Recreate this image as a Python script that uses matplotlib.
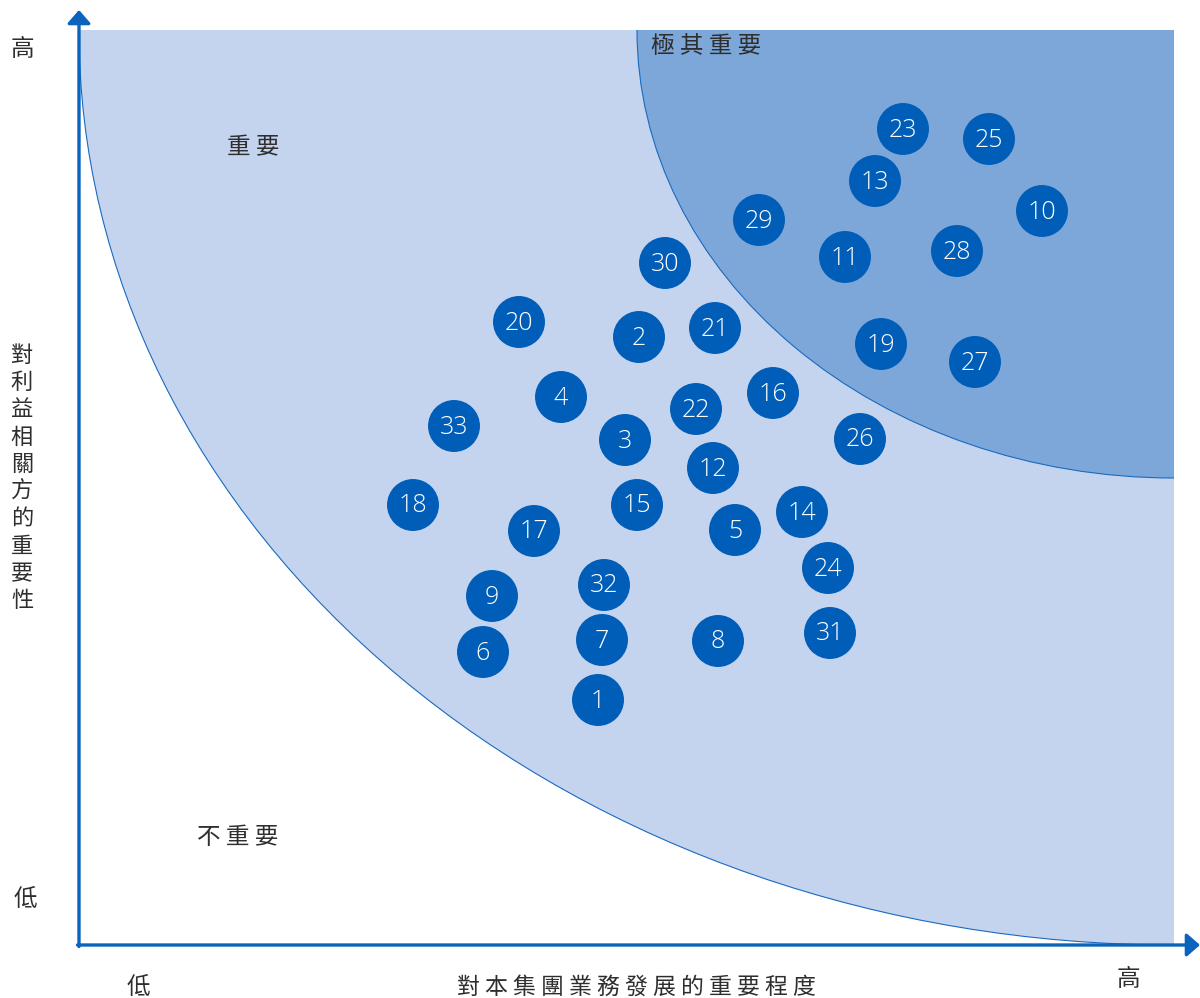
import matplotlib.pyplot as plt
from matplotlib.patches import Ellipse, Rectangle

plt.rcParams['font.family'] = ['Noto Sans CJK TC', 'DejaVu Sans']

# bubble ids and positions (x = business importance, y = stakeholder importance)
ids = [1, 2, 3, 4, 5, 6, 7, 8, 9, 10, 11, 12, 13, 14, 15, 16, 17,
       18, 19, 20, 21, 22, 23, 24, 25, 26, 27, 28, 29, 30, 31, 32, 33]
x_vals = [519, 560, 546, 482, 656, 404, 523, 639, 413, 963, 766, 634, 796, 723, 558, 694, 455,
          334, 802, 440, 636, 617, 824, 749, 910, 781, 896, 878, 680, 586, 751, 525, 375]
y_vals = [245, 608, 505, 548, 415, 293, 305, 304, 349, 734, 688, 477, 764, 433, 440, 552, 414,
          440, 601, 623, 617, 536, 816, 377, 806, 506, 583, 694, 725, 682, 312, 360, 519]

x_max = 1095
y_max = 915

x_title = '對本集團業務發展的重要程度'
y_title = '對利益相關方的重要性'

light = '#c5d4ee'
dark = '#7da7d9'
bubble = '#005eb8'
line = '#0a64be'
txt = '#2e2e2e'

fig = plt.figure(figsize=(12, 9.98), dpi=100)
ax = fig.add_axes([0, 0, 1, 1])
ax.set_xlim(-79, 1121)
ax.set_ylim(-53, 945)
ax.axis('off')

clip = Rectangle((0, 0), x_max, y_max, transform=ax.transData)
e1 = Ellipse((x_max, y_max), 2 * x_max, 2 * y_max, fc=light, ec='#1a6ac0', lw=0.8)
e2 = Ellipse((x_max, y_max), 2 * 537, 2 * 448, fc=dark, ec='#1a6ac0', lw=0.8)
for e in (e1, e2):
    ax.add_patch(e)
    e.set_clip_path(clip)

ax.scatter(x_vals, y_vals, s=1400, color=bubble, edgecolors='none', zorder=3)
for i, x, y in zip(ids, x_vals, y_vals):
    ax.text(x, y - 1, str(i), color='white', fontsize=18, ha='center', va='center',
            family=['Open Sans', 'DejaVu Sans'], fontweight='light', zorder=4)

# axes with arrow heads
arr = dict(arrowstyle='-|>,head_length=0.8,head_width=0.7', color=line, lw=2.4,
           mutation_scale=10, shrinkA=0, shrinkB=0)
ax.annotate('', xy=(0, 935), xytext=(0, -1.5), arrowprops=arr)
ax.annotate('', xy=(1121, 0), xytext=(-1.5, 0), arrowprops=arr)

cjk = dict(fontsize=17, color=txt, ha='center', va='center', fontweight='medium')

# zone labels
ax.text(174, 797, '重 要', **cjk)
ax.text(159, 108, '不 重 要', **cjk)
ax.text(627, 899, '極 其 重 要', **cjk)

# low / high labels
ax.text(-57, 896, '高', **cjk)
ax.text(-54, 45, '低', **cjk)
ax.text(59, -42, '低', **cjk)
ax.text(1049, -35, '高', **cjk)

ax.text(557, -42, ' '.join(x_title), **dict(cjk, fontsize=16.5))
for k, ch in enumerate(y_title):
    ax.text(-57, 590 - k * 27.33, ch, **dict(cjk, fontsize=16))

fig.savefig('out.png', dpi=100)
